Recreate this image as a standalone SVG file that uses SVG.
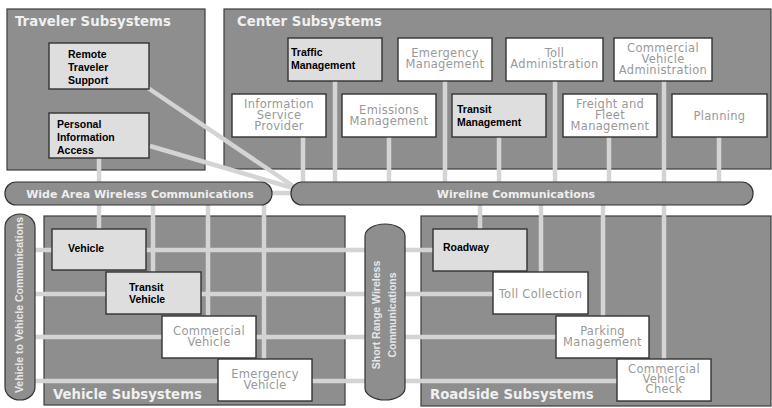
<svg xmlns="http://www.w3.org/2000/svg" width="772" height="408" viewBox="0 0 772 408">
  <style>
    .area { fill: #8e8e8e; stroke: #3c3c3c; stroke-width: 1.2; }
    .bus { fill: #8e8e8e; stroke: #333; stroke-width: 1.2; }
    .title { font-family: "DejaVu Sans", Verdana, sans-serif; font-weight: bold; font-size: 13.3px; fill: #f0f0f0; }
    .buslabel { font-family: "DejaVu Sans", Verdana, sans-serif; font-weight: bold; font-size: 11px; fill: #eeeeee; text-anchor: middle; }
    .vlabel { font-family: "Liberation Sans", Arial, sans-serif; font-weight: bold; font-size: 10.5px; fill: #e6e6e6; text-anchor: middle; }
    .gnode { fill: #dedede; stroke: #333; stroke-width: 1.4; }
    .wnode { fill: #ffffff; stroke: #333; stroke-width: 1.4; }
    .dark { font-family: "Liberation Sans", Arial, sans-serif; font-weight: bold; font-size: 10.5px; fill: #000; }
    .light { font-family: "DejaVu Sans", Verdana, sans-serif; font-size: 11.5px; letter-spacing: 0.3px; fill: #999999; text-anchor: middle; }
    .link { stroke: #d4d4d4; stroke-width: 4.5; fill: none; }
  </style>

  <rect width="772" height="408" fill="#ffffff"/>

  <!-- subsystem areas -->
  <g id="traveler-subsystems">
    <rect class="area" x="7" y="9" width="198" height="161"/>
    <text class="title" x="15" y="26">Traveler Subsystems</text>
  </g>
  <g id="center-subsystems">
    <rect class="area" x="224" y="9" width="547" height="160"/>
    <text class="title" x="237" y="26">Center Subsystems</text>
  </g>
  <g id="vehicle-subsystems">
    <rect class="area" x="44" y="216" width="301" height="189"/>
    <text class="title" x="53" y="399">Vehicle Subsystems</text>
  </g>
  <g id="roadside-subsystems">
    <rect class="area" x="421" y="216" width="350" height="190"/>
    <text class="title" x="430" y="399">Roadside Subsystems</text>
  </g>

  <!-- connectors -->
  <g id="connectors" class="link">
    <line x1="148" y1="88" x2="293" y2="186"/>
    <line x1="150" y1="146" x2="293" y2="188"/>
    <line x1="270" y1="193" x2="293" y2="193"/>
    <line x1="99" y1="158" x2="99" y2="229"/>
    <line x1="153" y1="205" x2="153" y2="272"/>
    <line x1="208" y1="205" x2="208" y2="316"/>
    <line x1="264" y1="205" x2="264" y2="359"/>
    <line x1="303" y1="137" x2="303" y2="184"/>
    <line x1="335" y1="81" x2="335" y2="184"/>
    <line x1="389" y1="137" x2="389" y2="184"/>
    <line x1="445" y1="81" x2="445" y2="184"/>
    <line x1="499" y1="137" x2="499" y2="184"/>
    <line x1="555" y1="81" x2="555" y2="184"/>
    <line x1="609" y1="137" x2="609" y2="184"/>
    <line x1="664" y1="81" x2="664" y2="359"/>
    <line x1="719" y1="137" x2="719" y2="184"/>
    <line x1="480" y1="204" x2="480" y2="229"/>
    <line x1="541" y1="204" x2="541" y2="272"/>
    <line x1="603" y1="204" x2="603" y2="316"/>
    <line x1="33" y1="250" x2="433" y2="250"/>
    <line x1="33" y1="294" x2="493" y2="294"/>
    <line x1="33" y1="337" x2="556" y2="337"/>
    <line x1="33" y1="381" x2="617" y2="381"/>
  </g>

  <!-- communication buses -->
  <g id="wide-area-wireless">
    <rect class="bus" x="5" y="182" width="267" height="23" rx="11" ry="11"/>
    <text class="buslabel" x="140" y="198">Wide Area Wireless Communications</text>
  </g>
  <g id="wireline">
    <rect class="bus" x="291" y="182" width="462" height="23" rx="11" ry="11"/>
    <text class="buslabel" x="516" y="198">Wireline Communications</text>
  </g>
  <g id="vehicle-to-vehicle">
    <rect class="bus" x="5" y="214" width="30" height="186" rx="15" ry="13"/>
    <text class="vlabel" transform="translate(23,305) rotate(-90)">Vehicle to Vehicle Communications</text>
  </g>
  <g id="short-range-wireless">
    <rect class="bus" x="365" y="224" width="40" height="176" rx="20" ry="12"/>
    <text class="vlabel" transform="translate(380,315) rotate(-90)">Short Range Wireless</text>
    <text class="vlabel" transform="translate(396,315) rotate(-90)">Communications</text>
  </g>

  <!-- traveler nodes -->
  <g id="remote-traveler-support">
    <rect class="gnode" x="49" y="43" width="100" height="46"/>
    <text class="dark" x="68" y="58">Remote</text>
    <text class="dark" x="68" y="71">Traveler</text>
    <text class="dark" x="68" y="84">Support</text>
  </g>
  <g id="personal-information-access">
    <rect class="gnode" x="49" y="113" width="100" height="45"/>
    <text class="dark" x="57" y="128">Personal</text>
    <text class="dark" x="57" y="141">Information</text>
    <text class="dark" x="57" y="154">Access</text>
  </g>

  <!-- center nodes -->
  <g id="traffic-management">
    <rect class="gnode" x="288" y="38" width="94" height="43"/>
    <text class="dark" x="291" y="56">Traffic</text>
    <text class="dark" x="291" y="69">Management</text>
  </g>
  <g id="emergency-management">
    <rect class="wnode" x="398" y="38" width="94" height="43"/>
    <text class="light" x="445" y="57">Emergency</text>
    <text class="light" x="445" y="68">Management</text>
  </g>
  <g id="toll-administration">
    <rect class="wnode" x="506" y="38" width="97" height="43"/>
    <text class="light" x="554.5" y="57">Toll</text>
    <text class="light" x="554.5" y="68">Administration</text>
  </g>
  <g id="commercial-vehicle-administration">
    <rect class="wnode" x="614" y="38" width="98" height="43"/>
    <text class="light" x="663" y="52">Commercial</text>
    <text class="light" x="663" y="62.5">Vehicle</text>
    <text class="light" x="663" y="73.5">Administration</text>
  </g>
  <g id="information-service-provider">
    <rect class="wnode" x="232" y="94" width="94" height="43"/>
    <text class="light" x="279" y="108">Information</text>
    <text class="light" x="279" y="119">Service</text>
    <text class="light" x="279" y="130">Provider</text>
  </g>
  <g id="emissions-management">
    <rect class="wnode" x="342" y="94" width="94" height="43"/>
    <text class="light" x="389" y="114">Emissions</text>
    <text class="light" x="389" y="125">Management</text>
  </g>
  <g id="transit-management">
    <rect class="gnode" x="452" y="94" width="94" height="43"/>
    <text class="dark" x="457" y="113">Transit</text>
    <text class="dark" x="457" y="126">Management</text>
  </g>
  <g id="freight-and-fleet-management">
    <rect class="wnode" x="563" y="94" width="94" height="43"/>
    <text class="light" x="610" y="108">Freight and</text>
    <text class="light" x="610" y="119">Fleet</text>
    <text class="light" x="610" y="130">Management</text>
  </g>
  <g id="planning">
    <rect class="wnode" x="672" y="94" width="95" height="43"/>
    <text class="light" x="719.5" y="120">Planning</text>
  </g>

  <!-- vehicle nodes -->
  <g id="vehicle">
    <rect class="gnode" x="52" y="229" width="94" height="41"/>
    <text class="dark" x="68" y="252">Vehicle</text>
  </g>
  <g id="transit-vehicle">
    <rect class="gnode" x="106" y="272" width="95" height="42"/>
    <text class="dark" x="129" y="291">Transit</text>
    <text class="dark" x="129" y="303">Vehicle</text>
  </g>
  <g id="commercial-vehicle">
    <rect class="wnode" x="162" y="316" width="94" height="42"/>
    <text class="light" x="209" y="335">Commercial</text>
    <text class="light" x="209" y="346">Vehicle</text>
  </g>
  <g id="emergency-vehicle">
    <rect class="wnode" x="218" y="359" width="94" height="42"/>
    <text class="light" x="265" y="378">Emergency</text>
    <text class="light" x="265" y="389">Vehicle</text>
  </g>

  <!-- roadside nodes -->
  <g id="roadway">
    <rect class="gnode" x="433" y="229" width="94" height="42"/>
    <text class="dark" x="443" y="251">Roadway</text>
  </g>
  <g id="toll-collection">
    <rect class="wnode" x="493" y="272" width="95" height="42"/>
    <text class="light" x="540.5" y="298">Toll Collection</text>
  </g>
  <g id="parking-management">
    <rect class="wnode" x="556" y="316" width="93" height="42"/>
    <text class="light" x="602.5" y="335">Parking</text>
    <text class="light" x="602.5" y="346">Management</text>
  </g>
  <g id="commercial-vehicle-check">
    <rect class="wnode" x="617" y="359" width="94" height="42"/>
    <text class="light" x="664" y="373">Commercial</text>
    <text class="light" x="664" y="383">Vehicle</text>
    <text class="light" x="664" y="393">Check</text>
  </g>
</svg>
